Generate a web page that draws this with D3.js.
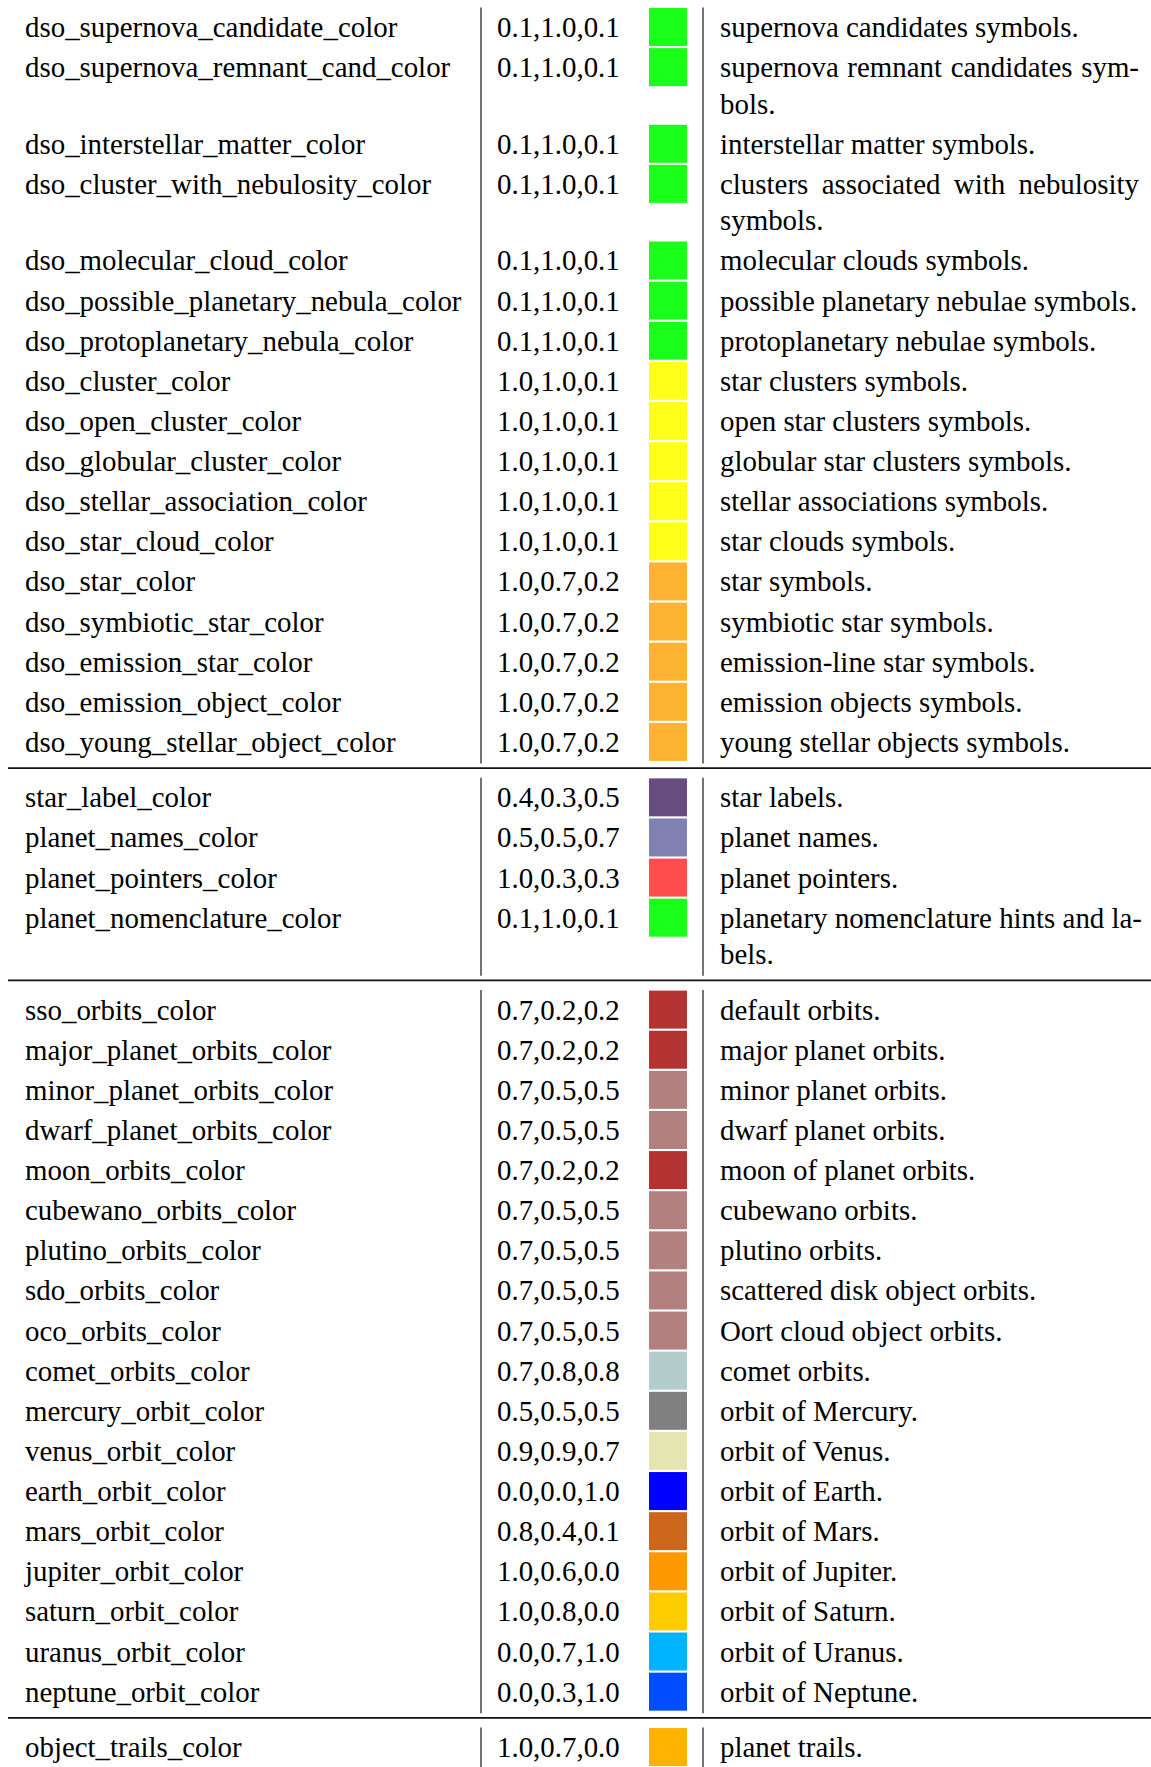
<!DOCTYPE html>
<html>
<head>
<meta charset="utf-8">
<script src="https://cdn.jsdelivr.net/npm/d3@7"></script>
<style>
  html, body { margin: 0; padding: 0; background: #fff; }
  svg { display: block; }
  text { font-family: "Liberation Serif", "Times New Roman", serif; fill: #000; }
</style>
</head>
<body>
<script>
// ---- data ----
const names = [
  "dso_supernova_candidate_color","dso_supernova_remnant_cand_color","dso_interstellar_matter_color",
  "dso_cluster_with_nebulosity_color","dso_molecular_cloud_color","dso_possible_planetary_nebula_color",
  "dso_protoplanetary_nebula_color","dso_cluster_color","dso_open_cluster_color","dso_globular_cluster_color",
  "dso_stellar_association_color","dso_star_cloud_color","dso_star_color","dso_symbiotic_star_color",
  "dso_emission_star_color","dso_emission_object_color","dso_young_stellar_object_color",
  "star_label_color","planet_names_color","planet_pointers_color","planet_nomenclature_color",
  "sso_orbits_color","major_planet_orbits_color","minor_planet_orbits_color","dwarf_planet_orbits_color",
  "moon_orbits_color","cubewano_orbits_color","plutino_orbits_color","sdo_orbits_color","oco_orbits_color",
  "comet_orbits_color","mercury_orbit_color","venus_orbit_color","earth_orbit_color","mars_orbit_color",
  "jupiter_orbit_color","saturn_orbit_color","uranus_orbit_color","neptune_orbit_color",
  "object_trails_color"
];
const colorValues = [
  "0.1,1.0,0.1","0.1,1.0,0.1","0.1,1.0,0.1","0.1,1.0,0.1","0.1,1.0,0.1","0.1,1.0,0.1","0.1,1.0,0.1",
  "1.0,1.0,0.1","1.0,1.0,0.1","1.0,1.0,0.1","1.0,1.0,0.1","1.0,1.0,0.1",
  "1.0,0.7,0.2","1.0,0.7,0.2","1.0,0.7,0.2","1.0,0.7,0.2","1.0,0.7,0.2",
  "0.4,0.3,0.5","0.5,0.5,0.7","1.0,0.3,0.3","0.1,1.0,0.1",
  "0.7,0.2,0.2","0.7,0.2,0.2","0.7,0.5,0.5","0.7,0.5,0.5","0.7,0.2,0.2","0.7,0.5,0.5","0.7,0.5,0.5",
  "0.7,0.5,0.5","0.7,0.5,0.5","0.7,0.8,0.8","0.5,0.5,0.5","0.9,0.9,0.7","0.0,0.0,1.0","0.8,0.4,0.1",
  "1.0,0.6,0.0","1.0,0.8,0.0","0.0,0.7,1.0","0.0,0.3,1.0",
  "1.0,0.7,0.0"
];
// "|" marks a line break in the wrapped (justified) description column
const descriptions = [
  "supernova candidates symbols.","supernova remnant candidates sym-|bols.","interstellar matter symbols.",
  "clusters associated with nebulosity|symbols.","molecular clouds symbols.","possible planetary nebulae symbols.",
  "protoplanetary nebulae symbols.","star clusters symbols.","open star clusters symbols.",
  "globular star clusters symbols.","stellar associations symbols.","star clouds symbols.","star symbols.",
  "symbiotic star symbols.","emission-line star symbols.","emission objects symbols.",
  "young stellar objects symbols.",
  "star labels.","planet names.","planet pointers.","planetary nomenclature hints and la-|bels.",
  "default orbits.","major planet orbits.","minor planet orbits.","dwarf planet orbits.",
  "moon of planet orbits.","cubewano orbits.","plutino orbits.","scattered disk object orbits.",
  "Oort cloud object orbits.","comet orbits.","orbit of Mercury.","orbit of Venus.","orbit of Earth.",
  "orbit of Mars.","orbit of Jupiter.","orbit of Saturn.","orbit of Uranus.","orbit of Neptune.",
  "planet trails."
];
const groupSizes = [17, 4, 18, 1];

// ---- layout ----
const W = 1151, H = 1767;
const fontSize = 28.9;
const rowH = 40.12, lineH = 36.5, baseOff = 29;
const xName = 25, xVal = 497, xSw = 649, swW = 38, swH = 38, xDesc = 720, descRight = 1139;
const xSep1 = 481, xSep2 = 703;
const ruleX0 = 8;
const ruleOff = 5, groupGap = 15.3;

const rows = names.map((n, i) => ({
  name: n, value: colorValues[i], lines: descriptions[i].split("|"),
  color: (() => { const c = colorValues[i].split(",").map(Number); return d3.rgb(c[0]*255, c[1]*255, c[2]*255); })()
}));

// compute row positions, group by group
let y = 8;
let idx = 0;
const groups = [];
groupSizes.forEach((gs, gi) => {
  const start = y;
  for (let k = 0; k < gs; k++, idx++) {
    rows[idx].top = y;
    y += rowH + lineH * (rows[idx].lines.length - 1);
  }
  groups.push({start, end: y});
  if (gi < groupSizes.length - 1) {
    groups[gi].rule = y + ruleOff;
    y += groupGap;
  }
});

const svg = d3.select("body").append("svg").attr("width", W).attr("height", H);

// vertical separators and horizontal rules
groups.forEach(g => {
  [xSep1, xSep2].forEach(x => {
    svg.append("line").attr("x1", x).attr("x2", x)
      .attr("y1", g.start - 0.5).attr("y2", Math.min(g.end + 0.5, H))
      .attr("stroke", "#000").attr("stroke-width", 1.1);
  });
  if (g.rule !== undefined) {
    svg.append("line").attr("x1", ruleX0).attr("x2", W)
      .attr("y1", g.rule).attr("y2", g.rule)
      .attr("stroke", "#111").attr("stroke-width", 1.8);
  }
});

const rg = svg.selectAll("g.row").data(rows).join("g").attr("class", "row");

rg.append("text").attr("x", xName).attr("y", d => d.top + baseOff)
  .attr("font-size", fontSize).text(d => d.name);
rg.append("text").attr("x", xVal).attr("y", d => d.top + baseOff)
  .attr("font-size", fontSize).text(d => d.value);
rg.append("rect").attr("x", xSw).attr("y", d => d.top).attr("width", swW).attr("height", swH)
  .attr("fill", d => d.color.formatHex());

rg.each(function(d) {
  const g = d3.select(this);
  d.lines.forEach((ln, li) => {
    const t = g.append("text").attr("x", xDesc).attr("y", d.top + baseOff + li * lineH)
      .attr("font-size", fontSize).text(ln);
    if (li < d.lines.length - 1) {
      const nat = t.node().getComputedTextLength();
      const spaces = (ln.match(/ /g) || []).length;
      if (spaces > 0) t.attr("word-spacing", Math.max(0, ((descRight - xDesc) - nat) / spaces));
    }
  });
});
</script>
</body>
</html>
